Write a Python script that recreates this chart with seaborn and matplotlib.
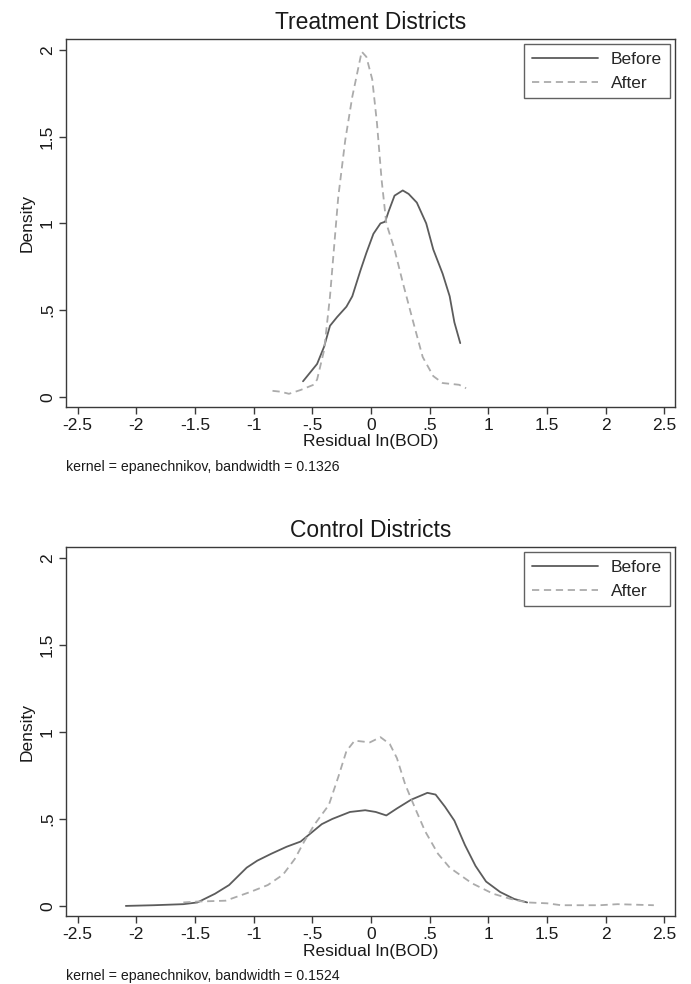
import seaborn as sns
import matplotlib.pyplot as plt
import pandas as pd

# Kernel density curves
treat_before_x = [-0.58, -0.46, -0.40, -0.35, -0.29, -0.21, -0.16, -0.09, -0.04, 0.02, 0.08, 0.12,
                  0.15, 0.20, 0.27, 0.32, 0.39, 0.47, 0.53, 0.61, 0.67, 0.71, 0.76]
treat_before_y = [0.09, 0.19, 0.29, 0.41, 0.46, 0.52, 0.58, 0.73, 0.83, 0.94, 1.00, 1.01,
                  1.07, 1.16, 1.19, 1.17, 1.12, 1.00, 0.85, 0.71, 0.58, 0.43, 0.31]
treat_after_x = [-0.84, -0.77, -0.70, -0.60, -0.49, -0.46, -0.40, -0.35, -0.28, -0.22, -0.16, -0.08,
                 -0.04, 0.01, 0.05, 0.09, 0.13, 0.20, 0.27, 0.36, 0.44, 0.53, 0.61, 0.75, 0.81]
treat_after_y = [0.035, 0.03, 0.018, 0.04, 0.07, 0.10, 0.27, 0.58, 1.15, 1.48, 1.73, 1.99,
                 1.96, 1.83, 1.58, 1.25, 1.00, 0.85, 0.66, 0.43, 0.23, 0.12, 0.08, 0.07, 0.05]

ctrl_before_x = [-2.09, -1.85, -1.60, -1.48, -1.33, -1.21, -1.06, -0.97, -0.85, -0.72, -0.60, -0.51,
                 -0.42, -0.33, -0.18, -0.05, 0.04, 0.13, 0.22, 0.34, 0.48, 0.55, 0.63, 0.71, 0.80,
                 0.89, 0.98, 1.10, 1.22, 1.33]
ctrl_before_y = [0.0, 0.004, 0.01, 0.02, 0.07, 0.12, 0.22, 0.26, 0.30, 0.34, 0.37, 0.42,
                 0.47, 0.50, 0.54, 0.55, 0.54, 0.52, 0.56, 0.61, 0.65, 0.64, 0.57, 0.49, 0.35,
                 0.23, 0.14, 0.08, 0.04, 0.02]
ctrl_after_x = [-1.60, -1.48, -1.24, -1.03, -0.88, -0.75, -0.65, -0.57, -0.48, -0.36, -0.28, -0.21,
                -0.14, -0.01, 0.08, 0.16, 0.22, 0.29, 0.37, 0.46, 0.57, 0.67, 0.86, 1.04, 1.19,
                1.33, 1.50, 1.62, 1.95, 2.10, 2.41]
ctrl_after_y = [0.02, 0.025, 0.03, 0.08, 0.12, 0.18, 0.27, 0.37, 0.47, 0.58, 0.74, 0.89,
                0.95, 0.94, 0.97, 0.93, 0.85, 0.70, 0.57, 0.43, 0.30, 0.22, 0.13, 0.07, 0.04,
                0.02, 0.015, 0.004, 0.004, 0.01, 0.004]

x_ticks = [-2.5, -2, -1.5, -1, -0.5, 0, 0.5, 1, 1.5, 2, 2.5]
x_tick_labels = ['-2.5', '-2', '-1.5', '-1', '-.5', '0', '.5', '1', '1.5', '2', '2.5']
y_ticks = [0, 0.5, 1, 1.5, 2]
y_tick_labels = ['0', '.5', '1', '1.5', '2']

panels = [
    ('Treatment Districts', treat_before_x, treat_before_y, treat_after_x, treat_after_y, '0.1326'),
    ('Control Districts', ctrl_before_x, ctrl_before_y, ctrl_after_x, ctrl_after_y, '0.1524'),
]

sns.set_style('white')
plt.rcParams['font.family'] = ['Liberation Sans', 'DejaVu Sans']

fig = plt.figure(figsize=(6.91, 9.84), dpi=100)
ax_rects = [[0.0955, 0.5864, 0.8813, 0.374], [0.0955, 0.0691, 0.8813, 0.375]]
frame_col = '#3a3a3a'

for rect, (title, bx, by, axx, ay, bw) in zip(ax_rects, panels):
    ax = fig.add_axes(rect)
    df = pd.concat([
        pd.DataFrame({'x': bx, 'density': by, 'period': 'Before'}),
        pd.DataFrame({'x': axx, 'density': ay, 'period': 'After'}),
    ])
    sns.lineplot(data=df, x='x', y='density', hue='period', style='period',
                 palette={'Before': '#5c5c5c', 'After': '#ababab'},
                 dashes={'Before': '', 'After': (4, 2.6)},
                 linewidth=1.3, ax=ax, legend=False)
    ax.set_xlim(-2.6, 2.59)
    ax.set_ylim(-0.058, 2.063)
    ax.set_xticks(x_ticks)
    ax.set_xticklabels(x_tick_labels, fontsize=12.5)
    ax.set_yticks(y_ticks)
    ax.set_yticklabels(y_tick_labels, fontsize=12.5, rotation=90, va='center')
    ax.tick_params(axis='both', direction='out', length=5, width=1, color=frame_col,
                   left=True, bottom=True, pad=3, labelcolor='#1a1a1a')
    for s in ax.spines.values():
        s.set_color(frame_col)
        s.set_linewidth(1.0)
    ax.set_title(title, fontsize=16.5, pad=7, color='#1a1a1a')
    ax.set_xlabel('Residual ln(BOD)', fontsize=12.5, labelpad=1, color='#1a1a1a')
    ax.set_ylabel('Density', fontsize=12.5, labelpad=4, color='#1a1a1a')
    ax.grid(False)

    # legend handles styled like the curves
    h_before, = ax.plot([], [], color='#5c5c5c', lw=1.3)
    h_after, = ax.plot([], [], color='#ababab', lw=1.3, dashes=(4, 2.6))
    leg = ax.legend([h_before, h_after], ['Before', 'After'], loc='upper right',
                    fontsize=12.5, frameon=True, fancybox=False, handlelength=3.8,
                    handletextpad=0.75, borderaxespad=0.3, labelspacing=0.48,
                    borderpad=0.45)
    leg.get_frame().set_edgecolor(frame_col)
    leg.get_frame().set_linewidth(1.0)

    ax.text(0.0, -0.162, 'kernel = epanechnikov, bandwidth = ' + bw, transform=ax.transAxes,
            fontsize=10.2, color='#1a1a1a', ha='left', va='center')

plt.savefig('out.png', dpi=100)
